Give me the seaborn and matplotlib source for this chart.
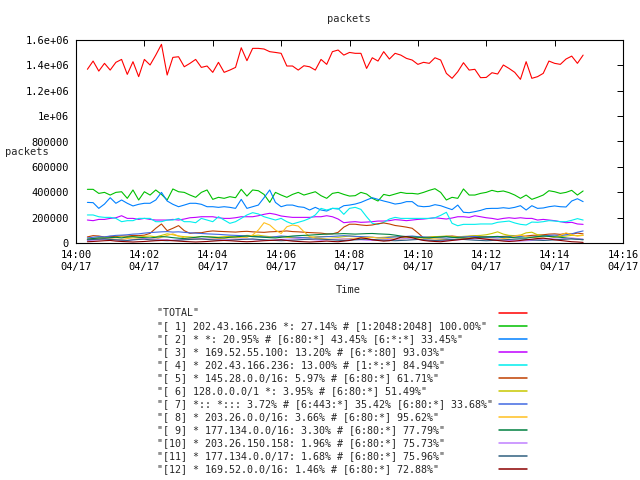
import numpy as np
import pandas as pd
import matplotlib
matplotlib.use("Agg")
import matplotlib.pyplot as plt
import matplotlib.dates as mdates
from matplotlib.ticker import FuncFormatter
import seaborn as sns

# === Data: packets per 10 s sample, in thousands ===
times = pd.date_range("2008-04-17 14:00:20", periods=88, freq="10s")

total_k = [1369, 1434, 1355, 1416, 1363, 1424, 1447, 1329, 1429, 1311, 1447, 1403, 1481, 1566, 1324,
           1463, 1468, 1389, 1416, 1447, 1384, 1395, 1345, 1424, 1345, 1363, 1384, 1539, 1437, 1534,
           1534, 1529, 1508, 1502, 1495, 1395, 1395, 1363, 1397, 1389, 1363, 1447, 1408, 1508, 1521,
           1481, 1502, 1495, 1495, 1376, 1460, 1434, 1508, 1450, 1495, 1481, 1455, 1442, 1408, 1424,
           1416, 1460, 1442, 1337, 1298, 1350, 1421, 1363, 1369, 1303, 1305, 1342, 1332, 1403, 1376,
           1345, 1290, 1429, 1298, 1311, 1337, 1434, 1416, 1408, 1450, 1473, 1416, 1481]
s1_k = [423, 423, 391, 399, 378, 399, 404, 352, 418, 339, 404, 378, 418, 383, 339, 426, 404, 399, 378, 360,
        399, 418, 344, 360, 352, 365, 357, 423, 370, 418, 412, 383, 320, 399, 378, 360, 383, 399, 378, 391,
        404, 373, 352, 391, 399, 383, 370, 373, 399, 386, 352, 331, 383, 373, 386, 399, 391, 391, 386, 399,
        415, 428, 399, 339, 360, 352, 426, 378, 378, 391, 399, 415, 404, 410, 397, 378, 352, 378, 344, 360,
        378, 412, 404, 391, 399, 415, 378, 410]
s2_k = [320, 318, 273, 307, 357, 313, 339, 313, 292, 305, 313, 313, 339, 399, 331, 305, 286, 299, 313, 313,
        305, 286, 286, 281, 286, 281, 273, 344, 273, 286, 299, 357, 418, 320, 286, 299, 299, 286, 281, 260,
        281, 260, 252, 273, 268, 294, 299, 307, 320, 339, 357, 344, 331, 320, 307, 313, 326, 326, 292, 286,
        289, 302, 294, 278, 263, 299, 242, 239, 247, 257, 271, 273, 273, 278, 273, 281, 294, 260, 294, 273,
        276, 286, 292, 286, 284, 331, 349, 326]
s3_k = [181, 176, 186, 186, 194, 199, 215, 194, 194, 186, 194, 186, 181, 181, 181, 186, 181, 189, 199, 202,
        207, 207, 207, 199, 194, 194, 199, 207, 207, 207, 215, 226, 234, 226, 213, 207, 202, 202, 202, 202,
        207, 207, 215, 207, 189, 160, 165, 168, 163, 165, 168, 173, 173, 176, 184, 181, 176, 181, 186, 189,
        194, 199, 194, 189, 197, 207, 207, 202, 215, 207, 199, 194, 186, 194, 199, 194, 199, 194, 194, 181,
        186, 181, 176, 168, 160, 163, 150, 147]
s4_k = [221, 221, 207, 202, 202, 194, 168, 176, 176, 194, 194, 194, 168, 168, 181, 181, 194, 168, 168, 160,
        194, 181, 168, 207, 181, 155, 168, 194, 221, 239, 229, 207, 194, 181, 194, 168, 150, 163, 176, 194,
        221, 273, 260, 273, 273, 226, 273, 281, 265, 207, 155, 147, 163, 189, 202, 194, 194, 194, 194, 194,
        194, 199, 218, 242, 155, 136, 147, 147, 147, 150, 150, 150, 163, 168, 173, 158, 147, 142, 165, 163,
        168, 176, 173, 168, 168, 179, 192, 181]
s5_k = [48, 58, 55, 47, 52, 50, 56, 54, 60, 58, 62, 76, 116, 150, 97, 116, 137, 97, 76, 81,
        81, 90, 95, 92, 90, 88, 86, 90, 92, 88, 86, 84, 88, 90, 92, 95, 90, 88, 85, 82,
        80, 78, 72, 72, 84, 125, 148, 148, 142, 138, 142, 152, 158, 150, 138, 132, 125, 116, 80, 40,
        45, 50, 48, 52, 55, 50, 47, 52, 55, 50, 48, 46, 50, 52, 55, 58, 52, 55, 60, 62,
        65, 70, 72, 68, 75, 70, 78, 72]
s6_k = [30, 35, 38, 42, 40, 45, 48, 44, 50, 46, 52, 55, 48, 60, 72, 65, 55, 50, 48, 45,
        52, 50, 48, 46, 50, 52, 48, 55, 60, 58, 62, 55, 50, 48, 52, 45, 42, 40, 44, 46,
        48, 50, 52, 48, 45, 50, 55, 52, 48, 46, 44, 42, 45, 48, 50, 47, 45, 42, 40, 45,
        48, 50, 52, 55, 50, 48, 52, 55, 58, 60, 65, 75, 88, 70, 60, 58, 62, 80, 85, 65,
        58, 55, 52, 50, 55, 60, 58, 62]
s7_k = [40, 45, 50, 48, 55, 60, 62, 65, 70, 72, 78, 82, 85, 88, 90, 86, 88, 84, 80, 78,
        75, 72, 70, 68, 65, 62, 60, 58, 55, 52, 50, 48, 45, 50, 55, 52, 48, 45, 42, 40,
        45, 48, 50, 52, 55, 58, 55, 52, 50, 48, 45, 42, 40, 45, 48, 50, 52, 55, 50, 48,
        45, 42, 40, 38, 42, 45, 48, 50, 52, 48, 45, 42, 40, 45, 50, 55, 52, 48, 45, 50,
        55, 60, 62, 58, 65, 72, 85, 95]
s8_k = [25, 30, 28, 35, 32, 30, 28, 35, 40, 38, 35, 32, 30, 45, 60, 72, 55, 40, 35, 32,
        30, 28, 32, 35, 38, 42, 40, 45, 45, 63, 102, 160, 142, 102, 75, 128, 142, 134, 89, 50,
        40, 35, 32, 30, 28, 32, 35, 38, 40, 42, 45, 40, 38, 35, 32, 30, 35, 40, 42, 38,
        35, 32, 30, 28, 25, 30, 35, 40, 38, 35, 32, 30, 28, 35, 40, 55, 62, 50, 45, 40,
        38, 35, 45, 60, 80, 65, 55, 60]
s9_k = [30, 35, 40, 38, 42, 45, 40, 48, 50, 45, 42, 40, 45, 50, 48, 42, 38, 35, 40, 45,
        50, 48, 45, 42, 40, 45, 48, 52, 55, 50, 48, 45, 42, 40, 45, 50, 55, 58, 60, 62,
        65, 68, 70, 72, 72, 74, 72, 70, 72, 74, 75, 72, 70, 68, 62, 55, 50, 48, 45, 42,
        40, 45, 48, 50, 45, 42, 40, 38, 42, 45, 48, 50, 52, 48, 45, 42, 40, 38, 45, 50,
        55, 52, 48, 45, 40, 35, 30, 25]
s10_k = [20, 22, 25, 28, 30, 25, 22, 20, 25, 30, 35, 32, 30, 28, 25, 22, 25, 28, 30, 32,
         35, 32, 30, 28, 25, 28, 30, 32, 30, 28, 25, 22, 20, 25, 28, 30, 32, 35, 30, 28,
         25, 22, 25, 28, 30, 32, 30, 28, 25, 22, 20, 22, 25, 28, 30, 32, 35, 30, 28, 25,
         22, 20, 18, 20, 22, 25, 28, 30, 32, 35, 30, 28, 25, 22, 20, 18, 15, 18, 20, 25,
         30, 35, 32, 30, 35, 40, 35, 30]
s11_k = [25, 28, 30, 32, 28, 25, 22, 20, 25, 28, 30, 25, 22, 20, 18, 20, 22, 25, 28, 30,
         32, 28, 25, 22, 20, 22, 25, 28, 30, 32, 28, 25, 22, 20, 18, 20, 22, 25, 28, 30,
         32, 30, 28, 25, 22, 20, 22, 25, 28, 30, 28, 25, 22, 20, 18, 20, 22, 25, 28, 25,
         22, 20, 22, 25, 28, 30, 28, 25, 22, 20, 18, 20, 22, 25, 28, 30, 32, 28, 25, 22,
         20, 22, 25, 28, 30, 32, 30, 28]
s12_k = [10, 12, 15, 18, 20, 15, 12, 10, 8, 10, 12, 15, 18, 20, 22, 18, 15, 12, 10, 8,
         10, 12, 15, 18, 20, 18, 15, 12, 10, 12, 15, 18, 20, 22, 25, 20, 15, 12, 10, 8,
         10, 12, 15, 12, 10, 15, 20, 30, 40, 35, 25, 20, 15, 18, 30, 45, 50, 42, 30, 20,
         15, 12, 10, 15, 20, 25, 30, 35, 40, 35, 30, 25, 20, 15, 12, 15, 20, 25, 30, 35,
         38, 32, 25, 20, 15, 10, 8, 5]

labels = [
    "TOTAL",
    "[ 1] 202.43.166.236 *: 27.14% # [1:2048:2048] 100.00%",
    "[ 2] * *: 20.95% # [6:80:*] 43.45% [6:*:*] 33.45%",
    "[ 3] * 169.52.55.100: 13.20% # [6:*:80] 93.03%",
    "[ 4] * 202.43.166.236: 13.00% # [1:*:*] 84.94%",
    "[ 5] * 145.28.0.0/16: 5.97% # [6:80:*] 61.71%",
    "[ 6] 128.0.0.0/1 *: 3.95% # [6:80:*] 51.49%",
    "[ 7] *:: *::: 3.72% # [6:443:*] 35.42% [6:80:*] 33.68%",
    "[ 8] * 203.26.0.0/16: 3.66% # [6:80:*] 95.62%",
    "[ 9] * 177.134.0.0/16: 3.30% # [6:80:*] 77.79%",
    "[10] * 203.26.150.158: 1.96% # [6:80:*] 75.73%",
    "[11] * 177.134.0.0/17: 1.68% # [6:80:*] 75.96%",
    "[12] * 169.52.0.0/16: 1.46% # [6:80:*] 72.88%",
]
colors = ["#ff0000", "#00c000", "#0080ff", "#c000ff", "#00eeee", "#c04000", "#c8c800",
          "#4169e1", "#ffc020", "#008040", "#c080ff", "#306080", "#8b0000"]
series = [total_k, s1_k, s2_k, s3_k, s4_k, s5_k, s6_k, s7_k, s8_k, s9_k, s10_k, s11_k, s12_k]

# long-form table for seaborn
frames = []
for lab, vals in zip(labels, series):
    frames.append(pd.DataFrame({"time": times, "packets": np.array(vals) * 1000, "series": lab}))
df = pd.concat(frames, ignore_index=True)

# === Plot ===
sns.set_style("white")
plt.rcParams["font.family"] = ["DejaVu Sans Mono", "DejaVu Sans"]

fig = plt.figure(figsize=(6.4, 4.8), dpi=100)
ax = fig.add_axes([76 / 640, 1 - 243 / 480, 547 / 640, 203 / 480])

sns.lineplot(data=df, x="time", y="packets", hue="series", hue_order=labels,
             palette=colors, linewidth=0.8, estimator=None, errorbar=None,
             legend=False, ax=ax)

ax.set_ylim(0, 1.6e6)
ax.set_yticks([0, 200000, 400000, 600000, 800000, 1000000, 1200000, 1400000, 1600000])
ax.yaxis.set_major_formatter(FuncFormatter(lambda v, p: f"{v:g}"))
ax.set_xlim(pd.Timestamp("2008-04-17 14:00"), pd.Timestamp("2008-04-17 14:16"))
ax.xaxis.set_major_locator(mdates.MinuteLocator(byminute=range(0, 60, 2)))
ax.xaxis.set_major_formatter(mdates.DateFormatter("%H:%M\n%m/%d"))
ax.tick_params(direction="in", length=4, width=0.7, top=True, right=True,
               labelsize=7.5, pad=5, colors="black")
ax.set_xlabel("")
ax.set_ylabel("")
for sp in ax.spines.values():
    sp.set_color("black")
    sp.set_linewidth(0.8)

fig.text(349 / 640, 1 - 19 / 480, "packets", ha="center", va="center", fontsize=7.5)
fig.text(27 / 640, 1 - 152 / 480, "packets", ha="center", va="center", fontsize=7.5)
fig.text(348 / 640, 1 - 290 / 480, "Time", ha="center", va="center", fontsize=7.5)

# legend: monospace labels padded so text is left aligned and samples line up
width = max(len(l) for l in labels) + 2
key_labels = [f'"{l}"'.ljust(width) for l in labels]
leg = fig.legend(ax.get_lines(), key_labels, loc="upper left",
                 bbox_to_anchor=(157 / 640, 1 - 308 / 480), frameon=False, markerfirst=False,
                 handlelength=2.8, handletextpad=0.6, labelspacing=0.3, borderpad=0,
                 borderaxespad=0, fontsize=7.2)
for ln in leg.get_lines():
    ln.set_linewidth(1.1)

fig.savefig("out.png", dpi=100)
